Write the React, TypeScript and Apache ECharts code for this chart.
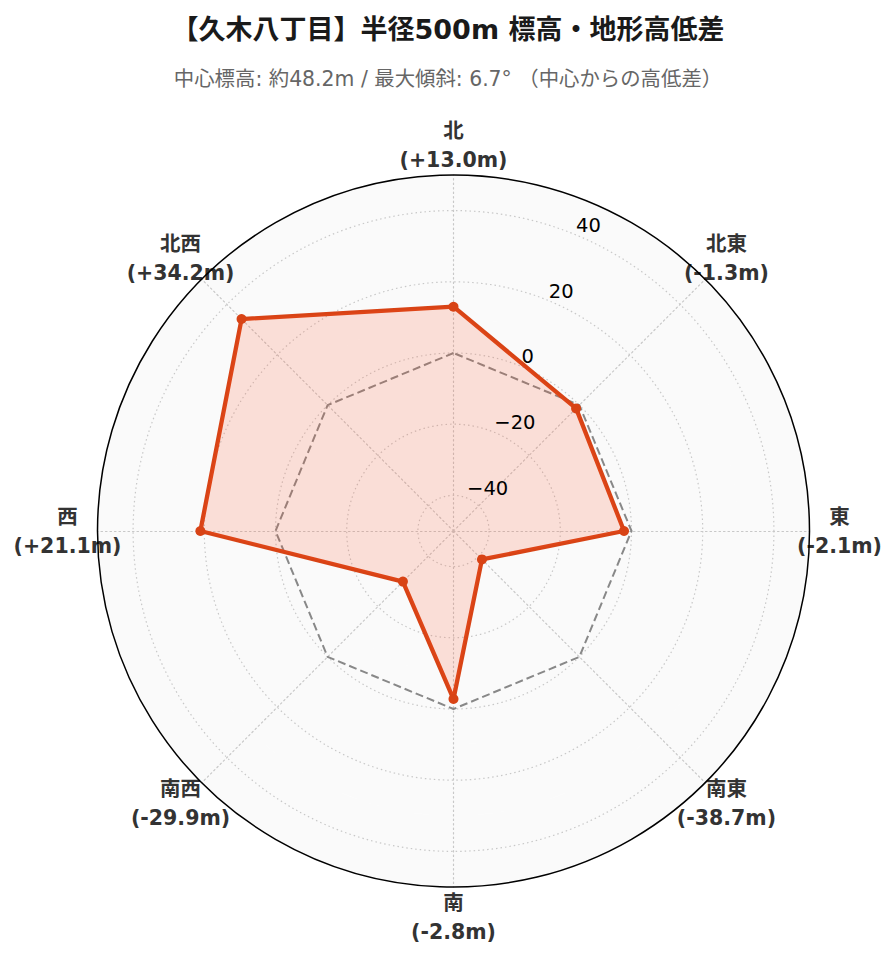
import React, { useEffect, useRef } from "react";
import * as echarts from "echarts";

// 方位（北から時計回り）と中心からの高低差 (m)
const directions = ["北", "北東", "東", "南東", "南", "南西", "西", "北西"];
const elevDiff = [13.0, -1.3, -2.1, -38.7, -2.8, -29.9, 21.1, 34.2];
const zeroLine = [0, 0, 0, 0, 0, 0, 0, 0];
const radialTicks = [-40, -20, 0, 20, 40];
const radialMin = -50;
const radialMax = 50;

const titleText = "【久木八丁目】半径500m 標高・地形高低差";
const subText = "中心標高: 約48.2m / 最大傾斜: 6.7° （中心からの高低差）";

const CENTER = [453.5, 531];
const RADIUS = 356;
const LABEL_GAP = 30;
const FONT = "'DejaVu Sans', 'Noto Sans CJK JP', sans-serif";
const GRID = "#c8c8c8";

const fmtDiff = (v: number) => (v >= 0 ? "+" : "") + v.toFixed(1);
const fmtTick = (v: number) => (v < 0 ? "\u2212" + Math.abs(v) : String(v));

export default function App() {
    const chartRef = useRef<HTMLDivElement>(null);

    useEffect(() => {
        document.body.style.margin = "0";
        if (!chartRef.current) return;
        const chart = echarts.init(chartRef.current, null, { renderer: "svg" });

        // radar は反時計回りに並ぶので順番を入れ替える
        const order = directions.map((_, i) => (directions.length - i) % directions.length);

        const option = {
            animation: false,
            backgroundColor: "#fff",
            textStyle: { fontFamily: FONT },
            title: [
                {
                    text: titleText,
                    left: "center",
                    top: 11,
                    textStyle: { fontSize: 27, fontWeight: "bold", color: "#1a1a1a", fontFamily: FONT },
                },
                {
                    text: subText,
                    left: "center",
                    top: 64,
                    textStyle: { fontSize: 20.4, fontWeight: "normal", color: "#666", fontFamily: FONT },
                },
            ],
            radar: {
                center: CENTER,
                radius: RADIUS,
                startAngle: 90,
                shape: "circle",
                splitNumber: 10,
                indicator: order.map((i) => ({ name: directions[i], min: radialMin, max: radialMax })),
                axisName: { show: false },
                axisTick: { show: false },
                axisLabel: { show: false },
                axisLine: { lineStyle: { color: GRID, type: [1.5, 3], width: 1.2 } },
                splitLine: {
                    lineStyle: { color: ["rgba(0,0,0,0)", GRID], type: [1.5, 3], width: 1.2 },
                },
                splitArea: { show: true, areaStyle: { color: ["#fafafa"] } },
            },
            polar: [
                { center: CENTER, radius: RADIUS },
                { center: CENTER, radius: RADIUS + LABEL_GAP },
            ],
            angleAxis: [
                {
                    polarIndex: 0,
                    type: "value",
                    min: 0,
                    max: 360,
                    startAngle: 67.5,
                    z: 3,
                    axisLine: { show: true, lineStyle: { color: "#000", width: 1.5 } },
                    axisTick: { show: false },
                    axisLabel: { show: false },
                    splitLine: { show: false },
                },
                {
                    polarIndex: 1,
                    type: "category",
                    data: directions,
                    boundaryGap: false,
                    startAngle: 90,
                    axisLine: { show: false },
                    axisTick: { show: false },
                    axisLabel: { show: false },
                    splitLine: { show: false },
                },
            ],
            radiusAxis: [
                {
                    polarIndex: 0,
                    type: "value",
                    min: radialMin,
                    max: radialMax,
                    interval: 10,
                    z: 10,
                    axisLine: { show: false },
                    axisTick: { show: false },
                    splitLine: { show: false },
                    axisLabel: {
                        formatter: (v: number) => (radialTicks.includes(Math.round(v)) ? fmtTick(Math.round(v)) : ""),
                        align: "left",
                        verticalAlign: "bottom",
                        margin: 0,
                        fontSize: 19.5,
                        color: "#000",
                        fontFamily: FONT,
                    },
                },
                {
                    polarIndex: 1,
                    type: "value",
                    min: 0,
                    max: 1,
                    axisLine: { show: false },
                    axisTick: { show: false },
                    axisLabel: { show: false },
                    splitLine: { show: false },
                },
            ],
            series: [
                {
                    type: "radar",
                    z: 3,
                    silent: true,
                    data: [
                        {
                            value: order.map((i) => zeroLine[i]),
                            symbol: "none",
                            lineStyle: { color: "#888", width: 2, type: [8, 4] },
                        },
                        {
                            value: order.map((i) => elevDiff[i]),
                            symbol: "circle",
                            symbolSize: 10,
                            itemStyle: { color: "#d84315" },
                            lineStyle: { color: "#d84315", width: 4.3 },
                            areaStyle: { color: "rgba(255,80,40,0.16)", opacity: 1 },
                        },
                    ],
                },
                {
                    type: "scatter",
                    coordinateSystem: "polar",
                    polarIndex: 1,
                    clip: false,
                    silent: true,
                    symbolSize: 1,
                    itemStyle: { color: "rgba(0,0,0,0)", opacity: 1 },
                    data: directions.map((d) => [1, d]),
                    label: {
                        show: true,
                        position: "inside",
                        formatter: (p: any) =>
                            `{n|${directions[p.dataIndex]}}\n{n|(${fmtDiff(elevDiff[p.dataIndex])}m)}`,
                        rich: {
                            n: { fontSize: 20.5, fontWeight: "bold", color: "#333", lineHeight: 29, fontFamily: FONT },
                        },
                    },
                },
            ],
        };

        chart.setOption(option);

        return () => {
            chart.dispose();
        };
    }, []);

    return <div ref={chartRef} style={{ width: 896, height: 962 }} />;
}
